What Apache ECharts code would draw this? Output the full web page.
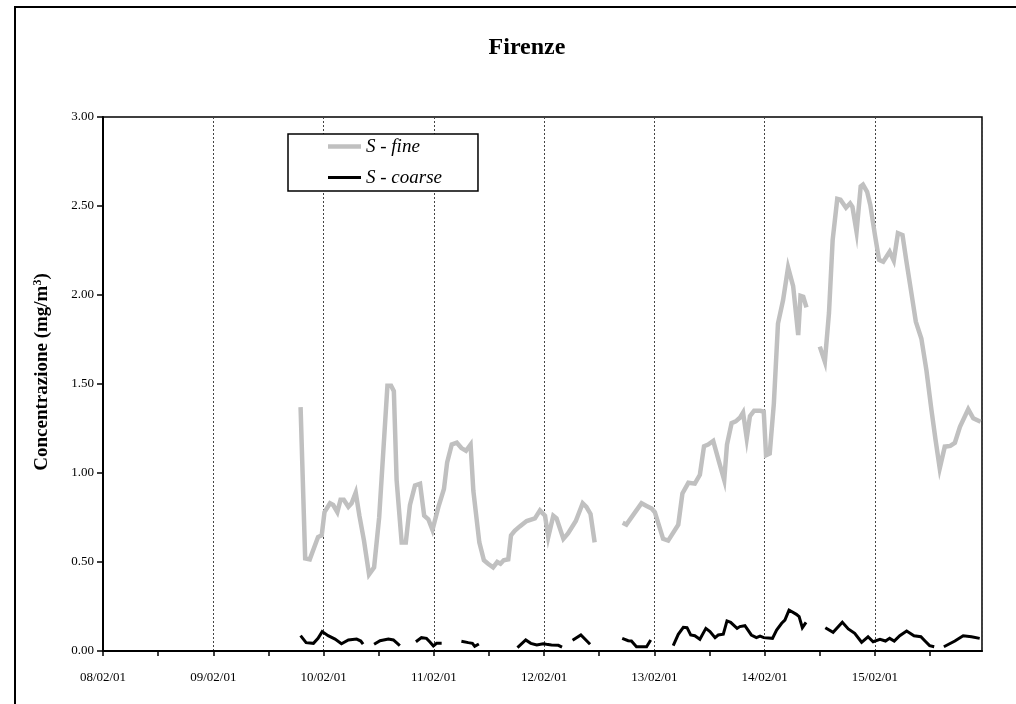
<!DOCTYPE html>
<html>
<head>
<meta charset="utf-8">
<title>Firenze</title>
<script src="https://cdn.jsdelivr.net/npm/echarts@6/dist/echarts.min.js"></script>
<style>
  html, body { margin: 0; padding: 0; background: #fff; }
  #chart { width: 1016px; height: 704px; }
</style>
</head>
<body>
<div id="chart"></div>
<script>
// Hours elapsed since 08/02/01 00:00; null marks a gap in the record.
const fineHours = [
  43.0, 44.0, 45.0, 46.8, 47.6, 48.2, 49.4, 50.1, 51.0, 51.7,
  52.4, 53.4, 54.1, 55.0, 55.8, 56.8, 57.9, 59.0, 60.1, 61.9,
  62.7, 63.3, 63.9, 65.0, 65.9, 66.8, 67.9, 69.0, 69.9, 70.8,
  71.7, 73.0, 74.2, 74.9, 75.9, 77.0, 78.0, 79.0, 80.0, 80.6,
  81.9, 82.9, 83.8, 84.9, 85.8, 86.5, 87.2, 88.2, 88.8, 89.6,
  90.7, 92.2, 94.0, 95.1, 96.2, 96.9, 98.0, 98.7, 100.2, 101.2,
  102.9, 104.4, 105.2, 106.1, 107.0,
  110,
  113.1, 113.9, 117.2, 118.3, 119.4, 120.1, 121.9, 123.0, 125.2, 126.1,
  127.4, 128.8, 129.9, 130.8, 131.7, 132.8, 134.1, 135.2, 135.8, 136.8,
  137.7, 138.6, 139.3, 140.1, 140.8, 141.7, 143.0, 143.8, 144.3, 145.1,
  146.0, 146.9, 148.0, 149.1, 150.2, 151.3, 151.8, 152.4, 153.1,
  154.5,
  156.0, 157.1, 158.0, 158.8, 159.8, 160.5, 161.7, 162.6, 163.1, 164.0,
  164.9, 165.4, 166.3, 167.0, 168.0, 168.9, 169.8, 170.5, 171.2, 172.1,
  173.0, 174.0, 174.8, 176.0, 176.9, 178.1, 179.2, 180.3, 181.2, 182.1,
  183.2, 184.4, 185.4, 186.5, 188.3, 189.4, 191.0
];
const fineValues = [
  1.37, 0.52, 0.515, 0.64, 0.65, 0.78, 0.83, 0.82, 0.78, 0.85,
  0.85, 0.81, 0.83, 0.89, 0.76, 0.62, 0.43, 0.47, 0.75, 1.49,
  1.49, 1.46, 0.96, 0.61, 0.61, 0.82, 0.93, 0.94, 0.76, 0.74,
  0.68, 0.81, 0.91, 1.06, 1.16, 1.17, 1.14, 1.125, 1.16, 0.90,
  0.61, 0.51, 0.49, 0.47, 0.50, 0.49, 0.51, 0.515, 0.65, 0.675,
  0.70, 0.73, 0.745, 0.79, 0.76, 0.64, 0.76, 0.745, 0.63, 0.66,
  0.73, 0.83, 0.81, 0.77, 0.61,
  null,
  0.72, 0.71, 0.83, 0.815, 0.80, 0.78, 0.63, 0.62, 0.71, 0.885,
  0.945, 0.94, 0.99, 1.15, 1.16, 1.18, 1.06, 0.96, 1.16, 1.28,
  1.29, 1.31, 1.34, 1.195, 1.32, 1.35, 1.35, 1.345, 1.10, 1.11,
  1.39, 1.84, 1.97, 2.155, 2.05, 1.775, 1.995, 1.99, 1.93,
  null,
  1.71, 1.625, 1.90, 2.31, 2.54, 2.535, 2.49, 2.515, 2.495, 2.355,
  2.61, 2.62, 2.58, 2.505, 2.337, 2.197, 2.187, 2.215, 2.243, 2.193,
  2.347, 2.337, 2.197, 2.00, 1.85, 1.756, 1.578, 1.354, 1.185, 1.026,
  1.148, 1.152, 1.17, 1.26, 1.358, 1.307, 1.288
];

const coarseHours = [
  43.0, 44.2, 45.8, 46.8, 47.7, 49.0, 50.5, 51.9, 53.4, 55.2, 56.1, 56.6,
  58,
  59.0, 60.3, 62.1, 63.2, 64.6,
  66,
  68.1, 69.3, 70.4, 71.1, 71.9, 72.6, 73.7,
  76,
  78.0, 79.5, 80.4, 80.9, 81.8,
  86,
  90.2, 92.0, 93.1, 94.4, 95.8, 96.5, 97.6, 99.1, 99.9,
  101,
  102.2, 104.0, 106.0,
  110,
  113.0, 114.3, 115.0, 116.1, 118.3, 119.2,
  122,
  124.1, 125.2, 126.3, 127.1, 127.9, 128.8, 129.9, 131.2, 132.1, 133.2,
  133.9, 135.0, 135.8, 136.6, 138.0, 138.6, 139.7, 141.1, 142.2, 143.0,
  143.8, 145.7, 146.6, 147.7, 148.4, 149.3, 150.9, 151.5, 152.2, 153.0,
  155,
  157.2, 158.9, 160.9, 162.2, 163.6, 165.1, 166.5, 167.6, 169.1, 170.3,
  171.2, 172.2, 173.4, 174.9, 176.5, 178.0, 178.9, 179.9, 180.9,
  182,
  183.0, 185.4, 187.2, 189.0, 190.8
];
const coarseValues = [
  0.086, 0.047, 0.043, 0.071, 0.109, 0.086, 0.067, 0.041, 0.062, 0.067, 0.056, 0.038,
  null,
  0.038, 0.058, 0.067, 0.062, 0.030,
  null,
  0.052, 0.075, 0.071, 0.052, 0.028, 0.043, 0.043,
  null,
  0.055, 0.047, 0.043, 0.026, 0.039,
  null,
  0.019, 0.062, 0.043, 0.034, 0.041, 0.038, 0.034, 0.032, 0.022,
  null,
  0.06, 0.09, 0.038,
  null,
  0.071, 0.058, 0.056, 0.024, 0.024, 0.062,
  null,
  0.030, 0.094, 0.133, 0.131, 0.09, 0.086, 0.066, 0.127, 0.109, 0.075,
  0.09, 0.094, 0.169, 0.161, 0.127, 0.137, 0.142, 0.09, 0.075, 0.084,
  0.075, 0.071, 0.118, 0.156, 0.174, 0.23, 0.206, 0.193, 0.131, 0.161,
  null,
  0.131, 0.105, 0.161, 0.124, 0.099, 0.049, 0.080, 0.052, 0.066, 0.056,
  0.071, 0.056, 0.086, 0.112, 0.086, 0.080, 0.056, 0.030, 0.024,
  null,
  0.024, 0.056, 0.086, 0.080, 0.071
];

// Day labels for the x axis, one per midnight.
const dayLabels = ['08/02/01', '09/02/01', '10/02/01', '11/02/01',
                   '12/02/01', '13/02/01', '14/02/01', '15/02/01'];
const seriesNames = ['S - fine', 'S - coarse'];

const serif = '"Liberation Serif", "DejaVu Serif", serif';

function pairs(xs, ys) {
  return xs.map((x, i) => [x, ys[i]]);
}

// Legend keys: a plain bar centred in a 33x12 box. The two empty
// sub-paths pin the box so the bar keeps its own thickness.
function barIcon(thickness) {
  const y0 = (12 - thickness) / 2, y1 = y0 + thickness;
  return 'path://M0,0L0,0M0,12L0,12M0,' + y0 + 'H33V' + y1 + 'H0Z';
}

const chart = echarts.init(document.getElementById('chart'), null, { renderer: 'canvas' });

chart.setOption({
  animation: false,
  backgroundColor: '#ffffff',
  graphic: [{
    type: 'rect',
    silent: true,
    shape: { x: 15, y: 7, width: 1030, height: 720 },
    style: { fill: 'none', stroke: '#000', lineWidth: 2 }
  }],
  title: {
    text: 'Firenze',
    left: 522,
    textAlign: 'center',
    top: 31,
    textStyle: {
      fontFamily: serif,
      fontWeight: 'bold',
      fontSize: 24,
      color: '#000'
    }
  },
  legend: {
    data: [
      { name: seriesNames[0], icon: barIcon(4.5), itemStyle: { color: '#c0c0c0', borderWidth: 0 } },
      { name: seriesNames[1], icon: barIcon(3), itemStyle: { color: '#000', borderWidth: 0 } }
    ],
    orient: 'vertical',
    left: 288,
    top: 134,
    padding: [3, 36, 4, 40],
    itemWidth: 33,
    itemHeight: 12,
    itemGap: 12,
    itemTextGap: 4,
    borderColor: '#000',
    borderWidth: 1.5,
    backgroundColor: '#fff',
    textStyle: {
      fontFamily: serif,
      fontStyle: 'italic',
      fontSize: 19,
      color: '#000'
    }
  },
  grid: {
    left: 103,
    top: 117,
    right: 34,
    bottom: 53,
    show: true,
    borderColor: '#000',
    borderWidth: 1.5,
    backgroundColor: 'transparent'
  },
  xAxis: {
    type: 'value',
    min: 0,
    max: 191.3,
    interval: 12,
    axisLine: { show: true, onZero: false, lineStyle: { color: '#000', width: 2 } },
    axisTick: { show: true, inside: false, length: 5, lineStyle: { color: '#000', width: 1.5 } },
    axisLabel: {
      margin: 20,
      fontFamily: serif,
      fontSize: 13,
      color: '#000',
      showMaxLabel: false,
      formatter: function (v) {
        const d = Math.round(v);
        return (Math.abs(v - d) < 1e-6 && d % 24 === 0) ? (dayLabels[d / 24] || '') : '';
      }
    },
    splitLine: {
      show: true,
      lineStyle: { color: ['#444', 'rgba(0,0,0,0)'], width: 1, type: [2, 2] }
    }
  },
  yAxis: {
    type: 'value',
    min: 0,
    max: 3,
    interval: 0.5,
    name: '{b|Concentrazione (mg/m}{s|3}{b|)}',
    nameLocation: 'middle',
    nameGap: 50,
    nameRotate: 90,
    nameTextStyle: {
      padding: [0, 0, 0, 24],
      rich: {
        b: { fontFamily: serif, fontWeight: 'bold', fontSize: 19, color: '#000' },
        s: { fontFamily: serif, fontWeight: 'bold', fontSize: 12, color: '#000', verticalAlign: 'top', padding: [0, 0, 9, 0] }
      }
    },
    axisLine: { show: true, lineStyle: { color: '#000', width: 2 } },
    axisTick: { show: true, inside: false, length: 6, lineStyle: { color: '#000', width: 1.5 } },
    axisLabel: {
      margin: 9,
      fontFamily: serif,
      fontSize: 13,
      color: '#000',
      formatter: function (v) { return v.toFixed(2); }
    },
    splitLine: { show: false }
  },
  series: [
    {
      name: seriesNames[0],
      type: 'line',
      data: pairs(fineHours, fineValues),
      symbol: 'none',
      showSymbol: false,
      connectNulls: false,
      color: '#c0c0c0',
      lineStyle: { color: '#c0c0c0', width: 4.5, join: 'miter' },
      z: 2
    },
    {
      name: seriesNames[1],
      type: 'line',
      data: pairs(coarseHours, coarseValues),
      symbol: 'none',
      showSymbol: false,
      connectNulls: false,
      color: '#000',
      lineStyle: { color: '#000', width: 3, join: 'miter' },
      z: 3
    }
  ]
});
</script>
</body>
</html>
